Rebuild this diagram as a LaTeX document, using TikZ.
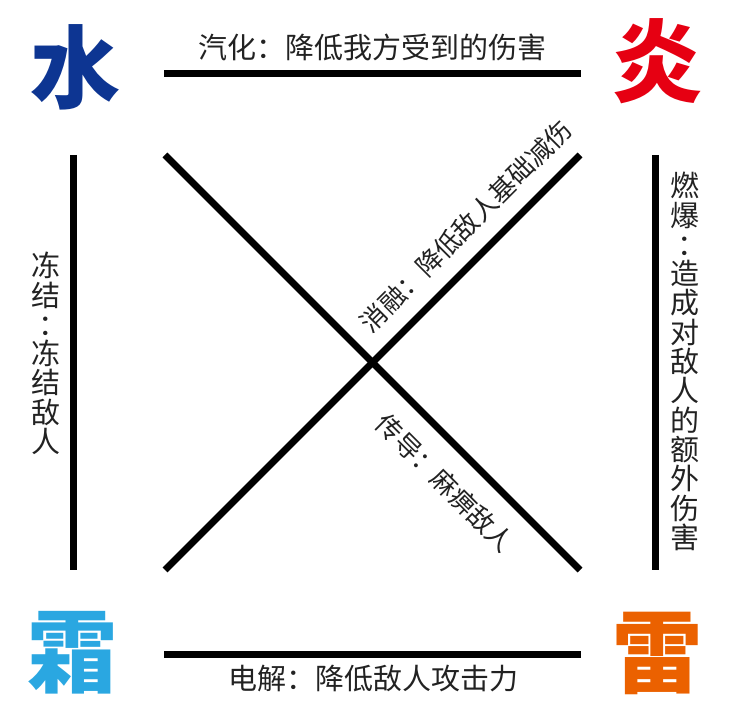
\documentclass[tikz,border=0pt]{standalone}
\usepackage{fontspec}
\setmainfont{Noto Sans CJK SC}
\definecolor{shui}{HTML}{0D3592}
\definecolor{yan}{HTML}{E60012}
\definecolor{shuang}{HTML}{2AA7E1}
\definecolor{lei}{HTML}{EB6100}
\definecolor{txt}{HTML}{222222}
\begin{document}
\begin{tikzpicture}[x=1pt,y=1pt,
  elem/.style={inner sep=0pt,font=\fontsize{90}{90}\selectfont\bfseries},
  lbl/.style={inner sep=0pt,text=txt,font=\fontsize{29}{29.3}\selectfont},
  vlbl/.style={lbl,align=center},
  dlbl/.style={inner sep=0pt,text=txt,font=\fontsize{26}{26}\selectfont},
  bar/.style={line width=7pt,line cap=butt}]
\useasboundingbox (0,0) rectangle (743,720);
% corner elements
\node[elem,text=shui]   (shui)   at (75,653) {水};
\node[elem,text=yan]    (yan)    at (657,659) {炎};
\node[elem,text=shuang] (shuang) at (72,67)  {霜};
\node[elem,text=lei]    (lei)    at (657,67) {雷};
% line end points
\coordinate (t1) at (164,646);
\coordinate (t2) at (581,646);
\coordinate (b1) at (164,66);
\coordinate (b2) at (581,66);
\coordinate (l1) at (73,565);
\coordinate (l2) at (73,150);
\coordinate (r1) at (655.5,565);
\coordinate (r2) at (655.5,150);
\coordinate (d1) at (165,565);
\coordinate (d2) at (580,150);
\coordinate (e1) at (165,150);
\coordinate (e2) at (580,565);
\draw[bar] (t1) -- (t2);
\draw[bar] (b1) -- (b2);
\draw[bar] (l1) -- (l2);
\draw[bar] (r1) -- (r2);
\draw[bar] (d1) -- (d2);
\draw[bar] (e1) -- (e2);
% labels
\node[lbl] (top) at (372,673) {汽化：降低我方受到的伤害};
\node[lbl] (bot) at (373,41) {电解：降低敌人攻击力};
\node[vlbl] (left) at (46,366.5) {冻\\结\\\hspace*{0.45em}：\\冻\\结\\敌\\人};
\node[vlbl] (right) at (685,358.5) {燃\\爆\\\hspace*{0.45em}：\\造\\成\\对\\敌\\人\\的\\额\\外\\伤\\害};
\node[dlbl,rotate=45] (melt) at (466,494) {消融：降低敌人基础减伤};
\node[dlbl,rotate=-45] (cond) at (445,237) {传导：麻痹敌人};
\end{tikzpicture}
\end{document}
